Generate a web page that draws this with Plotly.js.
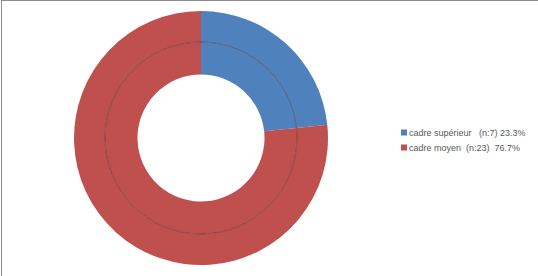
<!DOCTYPE html>
<html>
<head>
<meta charset="utf-8">
<script src="https://cdn.plot.ly/plotly-3.0.1.min.js"></script>
<style>
  html, body { margin: 0; padding: 0; background: #fff; }
  #wrap { position: relative; width: 538px; height: 276px; }
  #chart { width: 538px; height: 276px; }
  #frame { position: absolute; left: 1px; top: 0; width: 537px; height: 276px;
           border-left: 1.5px solid #8c8c8c; border-top: 1.5px solid #8c8c8c;
           box-sizing: border-box; pointer-events: none; }
</style>
</head>
<body>
<div id="wrap">
  <div id="chart"></div>
  <div id="frame"></div>
</div>
<script>
// ---- data ----
var categories = ["cadre supérieur", "cadre moyen"];
var counts = [7, 23];
var percentLabels = ["23.3%", "76.7%"];
var nLabels = ["(n:7)", "(n:23)"];
var colors = ["#4F81BD", "#C0504D"];

var NB = "\u00a0";
var labels = [
  categories[0] + NB + NB + NB + nLabels[0] + " " + percentLabels[0],
  categories[1] + NB + NB + nLabels[1] + NB + NB + percentLabels[1]
];

var W = 538, H = 276;
var cx = 201, cy = 138;
var rOuter = 127, rMid = 96, rInner = 63.5;

function dom(r) {
  return {
    x: [(cx - r) / W, (cx + r) / W],
    y: [(H - cy - r) / H, (H - cy + r) / H]
  };
}

var common = {
  type: "pie",
  labels: labels,
  values: counts,
  sort: false,
  direction: "clockwise",
  rotation: 0,
  textinfo: "none",
  hoverinfo: "none",
  marker: { colors: colors, line: { width: 0 } }
};

var outer = Object.assign({}, common, {
  domain: dom(rOuter),
  hole: rMid / rOuter,
  showlegend: true
});
var inner = Object.assign({}, common, {
  domain: dom(rMid),
  hole: rInner / rMid,
  showlegend: false
});

var layout = {
  width: W, height: H,
  margin: { l: 0, r: 0, t: 0, b: 0 },
  paper_bgcolor: "#ffffff",
  showlegend: true,
  legend: {
    x: 369 / W, y: (H - 118) / H,
    xanchor: "left", yanchor: "top",
    font: { family: "Liberation Sans, Arial, sans-serif", size: 9, color: "#595959" },
    itemwidth: 30,
    tracegroupgap: 0,
    bgcolor: "rgba(0,0,0,0)"
  },
  shapes: [{
    type: "circle", xref: "paper", yref: "paper", layer: "above",
    x0: (cx - rMid) / W, x1: (cx + rMid) / W,
    y0: (H - cy - rMid) / H, y1: (H - cy + rMid) / H,
    line: { color: "rgba(60,40,40,0.6)", width: 0.8 }
  }]
};

Plotly.newPlot("chart", [outer, inner], layout, { staticPlot: true, displayModeBar: false }).then(function () {
  var paths = document.querySelectorAll("path.legendpie");
  paths.forEach(function (p) {
    p.setAttribute("transform", "translate(35,0) scale(0.5)");
  });
  var items = document.querySelectorAll(".legend g.traces");
  items.forEach(function (g, i) {
    var t = g.getAttribute("transform") || "";
    var m = t.match(/translate\(\s*([-\d.]+)[ ,]+([-\d.]+)\s*\)/);
    if (m && i > 0) {
      var x = parseFloat(m[1]), y = parseFloat(m[2]) - 4 * i;
      g.setAttribute("transform", "translate(" + x + "," + y + ")");
    }
  });
});
</script>
</body>
</html>
